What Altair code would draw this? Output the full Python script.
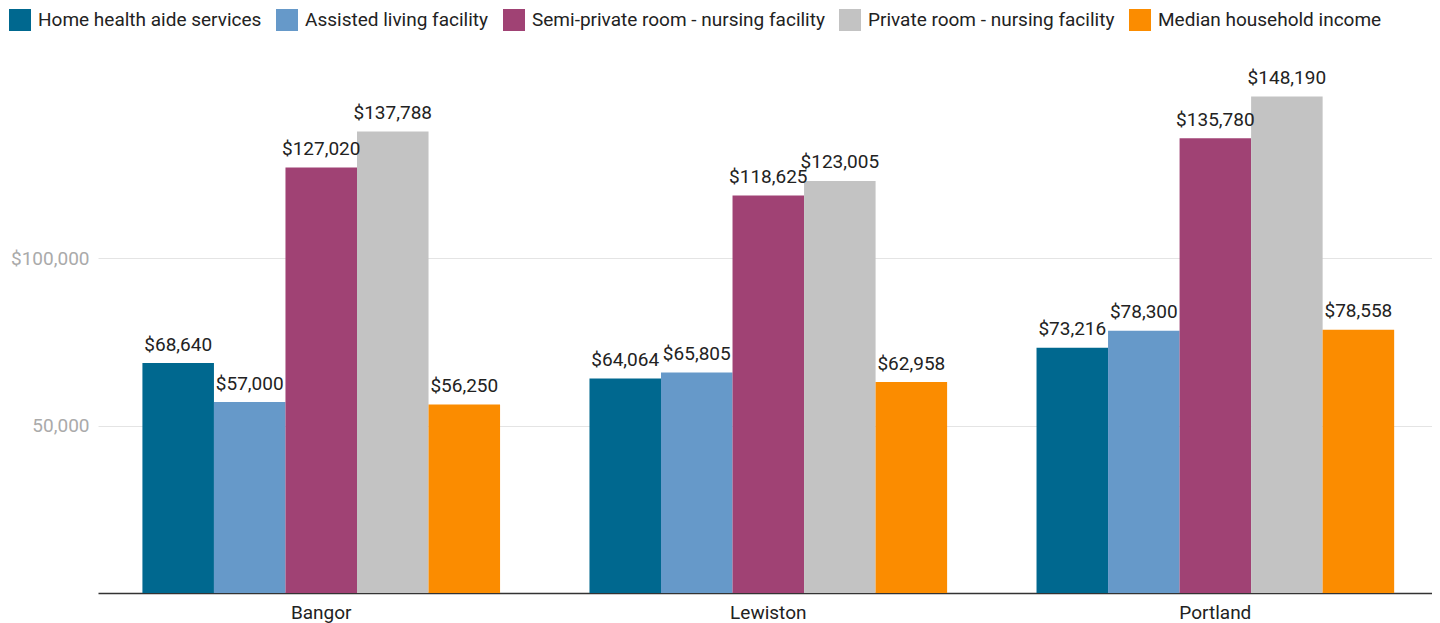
import altair as alt
import pandas as pd

cities = ["Bangor", "Lewiston", "Portland"]
series = [
    "Home health aide services",
    "Assisted living facility",
    "Semi-private room - nursing facility",
    "Private room - nursing facility",
    "Median household income",
]
colors = ["#00688f", "#6699c9", "#a04274", "#c3c3c3", "#fb8c00"]
home_health = [68640, 64064, 73216]
assisted = [57000, 65805, 78300]
semi_private = [127020, 118625, 135780]
private_room = [137788, 123005, 148190]
median_income = [56250, 62958, 78558]

values = [home_health, assisted, semi_private, private_room, median_income]
rows = []
for s, vals in zip(series, values):
    for c, v in zip(cities, vals):
        rows.append({"city": c, "series": s, "value": v, "label": "${:,}".format(v)})
df = pd.DataFrame(rows)

FONT = "Roboto"

x = alt.X(
    "city:N",
    sort=cities,
    title=None,
    scale=alt.Scale(paddingInner=0.2, paddingOuter=0.092, align=0.54),
    axis=alt.Axis(
        labelAngle=0,
        ticks=False,
        tickSize=0,
        domainColor="#333333",
        domainWidth=1.5,
        labelFontSize=19,
        labelColor="#222222",
        labelFont=FONT,
        labelPadding=10,
        grid=False,
    ),
)
y = alt.Y(
    "value:Q",
    title=None,
    scale=alt.Scale(domain=[0, 160000], nice=False),
    axis=alt.Axis(
        values=[50000, 100000],
        labelExpr="datum.value == 100000 ? '$100,000' : '50,000'",
        domain=False,
        ticks=False,
        labelFontSize=19,
        labelColor="#aaaaaa",
        labelFont=FONT,
        labelPadding=9,
        gridColor="#e4e4e4",
        gridWidth=1,
    ),
)
xoff = alt.XOffset("series:N", sort=series, scale=alt.Scale(paddingInner=0, paddingOuter=0))
color = alt.Color(
    "series:N",
    sort=series,
    scale=alt.Scale(domain=series, range=colors),
    legend=alt.Legend(
        title=None,
        orient="none",
        legendX=-89,
        legendY=-48,
        direction="horizontal",
        columns=5,
        symbolType="square",
        symbolSize=484,
        symbolStrokeWidth=0,
        symbolOpacity=1,
        labelFontSize=19,
        labelFont=FONT,
        labelColor="#222222",
        labelOffset=7,
        columnPadding=14,
        padding=0,
        labelLimit=400,
    ),
)

bars = alt.Chart(df).mark_bar(opacity=1).encode(x=x, y=y, xOffset=xoff, color=color)
text = alt.Chart(df).mark_text(
    baseline="alphabetic", dy=-12.5, fontSize=19, font=FONT, color="#222222"
).encode(x=x, y=y, xOffset=xoff, text="label:N")

chart = (
    alt.layer(bars, text)
    .properties(
        width=1334,
        height=536,
        padding={"left": 90, "top": 49, "right": 0, "bottom": 30},
        autosize=alt.AutoSizeParams(type="none"),
    )
    .configure(font=FONT)
    .configure_view(strokeWidth=0)
)

chart.save("out.html", embed_options={"renderer": "svg", "actions": False})
